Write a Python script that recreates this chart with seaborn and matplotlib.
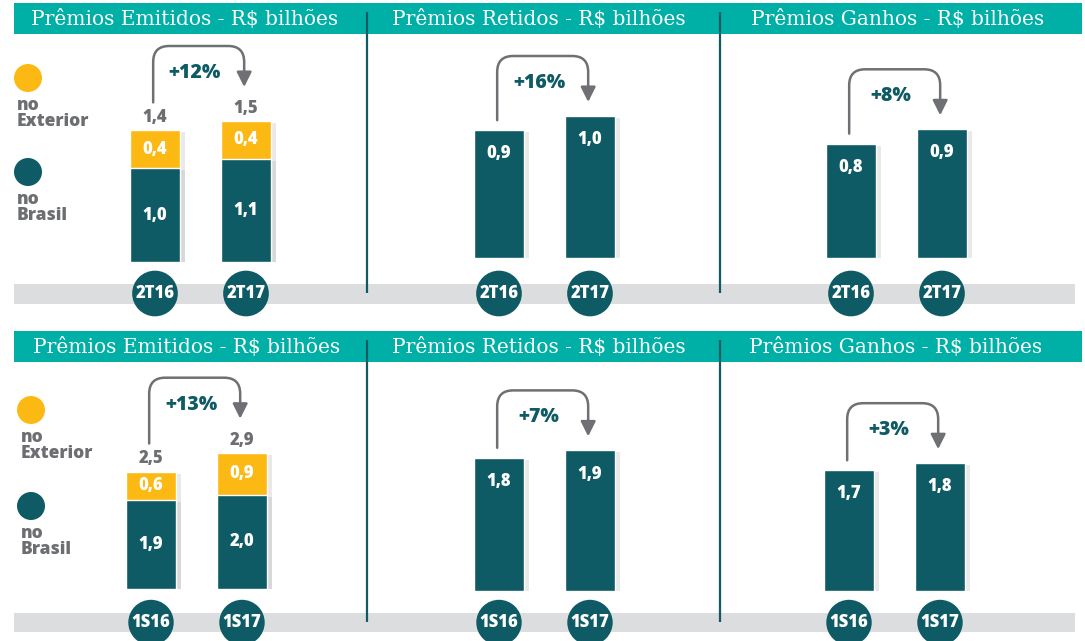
import matplotlib
matplotlib.use("Agg")
import matplotlib.pyplot as plt
import matplotlib.patheffects as pe
from matplotlib.patches import Rectangle, Circle, FancyArrowPatch
from matplotlib.path import Path
import pandas as pd
import seaborn as sns

sns.set_style("white")
plt.rcParams["font.family"] = ["Open Sans", "DejaVu Sans"]

W, H = 1085, 641

# colours
HEADER = "#00b0a6"
TEAL = "#0e5b65"
YELLOW = "#fdb913"
BAND = "#dcddde"
ARROW = "#6f7073"
GRAY_TXT = "#6d6e71"

# data
TITLES = ["Prêmios Emitidos - R$ bilhões",
          "Prêmios Retidos - R$ bilhões",
          "Prêmios Ganhos - R$ bilhões"]
LEGEND_LABELS = ["no\nExterior", "no\nBrasil"]

PERIODS_Q = ["2T16", "2T17"]
EMIT_BRASIL_Q = [1.0, 1.1]
EMIT_EXTERIOR_Q = [0.4, 0.4]
EMIT_TOTAL_Q = [1.4, 1.5]
RETIDOS_Q = [0.9, 1.0]
GANHOS_Q = [0.8, 0.9]
GROWTH_Q = ["+12%", "+16%", "+8%"]

PERIODS_S = ["1S16", "1S17"]
EMIT_BRASIL_S = [1.9, 2.0]
EMIT_EXTERIOR_S = [0.6, 0.9]
EMIT_TOTAL_S = [2.5, 2.9]
RETIDOS_S = [1.8, 1.9]
GANHOS_S = [1.7, 1.8]
GROWTH_S = ["+13%", "+7%", "+3%"]

# layout (pixels)
ROWS = [
    dict(header_y=3, header_h=31, band_y=284, band_h=20, sep=(12, 293),
         circle_y=294, top=40, legend_y=(78, 172), legend_x=28, text_x=17),
    dict(header_y=331, header_h=31, band_y=613, band_h=19, sep=(340, 622),
         circle_y=623, top=368, legend_y=(410, 506), legend_x=31, text_x=21),
]
# first bar centre x, baseline y, pixels per R$ bilhão
PANELS = [
    [(155, 262, 94), (499, 258, 142), (851, 258, 143)],
    [(151, 589, 47), (499, 591, 74), (849, 591, 71)],
]
HEADER_X = [[185, 539, 898], [187, 539, 896]]
SEP_X = [367, 720]
STEP = 91  # px between the two bars
BAR_W = 0.56


def fmt(v):
    return f"{v:.1f}".replace(".", ",")


def panel_axes(fig, cx, base, top):
    left = cx - STEP / 2
    return fig.add_axes([left / W, (H - base) / H, 2 * STEP / W, (base - top) / H])


def style_panel(ax, periods, scale, base, top, circle_y):
    ax.set_xlim(-0.5, 1.5)
    ax.set_ylim(0, (base - top) / scale)
    ax.set_facecolor("none")
    for s in ax.spines.values():
        s.set_visible(False)
    ax.set_yticks([])
    ax.set_xlabel("")
    ax.set_ylabel("")
    pad_pt = (circle_y - base - 9) * 72 / 100
    ax.set_xticks([0, 1], labels=periods, color="white", fontweight="heavy", fontsize=12,
                  bbox=dict(boxstyle="circle,pad=0.2", fc=TEAL, ec="none"))
    ax.tick_params(axis="x", length=0, pad=pad_pt)
    for p in ax.patches:
        p.set_path_effects([pe.SimplePatchShadow(offset=(3, -1.5), shadow_rgbFace="#9c9c9c", alpha=0.22),
                            pe.Normal()])


def growth_arrow(ax, v0, v1, scale, offs, label):
    start_off, top_off, tip_off = offs
    x0, x1 = -0.02, 0.98
    ys = v0 + start_off / scale
    yt = max(v0, v1) + top_off / scale
    ye = v1 + tip_off / scale
    rx, ry = 16 / STEP, 16 / scale
    verts = [(x0, ys), (x0, yt - ry), (x0, yt), (x0 + rx, yt),
             (x1 - rx, yt), (x1, yt), (x1, yt - ry), (x1, ye)]
    codes = [Path.MOVETO, Path.LINETO, Path.CURVE3, Path.CURVE3,
             Path.LINETO, Path.CURVE3, Path.CURVE3, Path.LINETO]
    arr = FancyArrowPatch(path=Path(verts, codes),
                          arrowstyle="-|>,head_length=0.9,head_width=0.45",
                          mutation_scale=10, color=ARROW, lw=1.8, clip_on=False)
    ax.add_patch(arr)
    ax.text(0.44, yt - 27 / scale, label, ha="center", va="center",
            color=TEAL, fontweight="heavy", fontsize=14)


def stacked_panel(ax, periods, brasil, exterior, total):
    df = pd.DataFrame({"period": periods, "brasil": brasil,
                       "exterior": exterior, "total": total})
    sns.barplot(data=df, x="period", y="total", color=YELLOW, saturation=1,
                width=BAR_W, errorbar=None, ax=ax)
    sns.barplot(data=df, x="period", y="brasil", color=TEAL, saturation=1,
                width=BAR_W, errorbar=None, ax=ax)
    ax.bar_label(ax.containers[0], labels=[fmt(v) for v in total], padding=3,
                 color=GRAY_TXT, fontweight="heavy", fontsize=12)
    for i, (b, e) in enumerate(zip(brasil, exterior)):
        ax.text(i, b + e / 2, fmt(e), ha="center", va="center",
                color="white", fontweight="heavy", fontsize=12)
        ax.text(i, b / 2, fmt(b), ha="center", va="center",
                color="white", fontweight="heavy", fontsize=12)


def single_panel(ax, periods, values):
    df = pd.DataFrame({"period": periods, "value": values})
    sns.barplot(data=df, x="period", y="value", color=TEAL, saturation=1,
                width=BAR_W, errorbar=None, ax=ax)
    for i, v in enumerate(values):
        ax.annotate(fmt(v), (i, v), xytext=(0, -17), textcoords="offset points",
                    ha="center", va="center", color="white", fontweight="heavy", fontsize=12)


fig = plt.figure(figsize=(W / 100, H / 100), dpi=100)
bg = fig.add_axes([0, 0, 1, 1])
bg.set_xlim(0, W)
bg.set_ylim(H, 0)
bg.axis("off")

row_data = [
    (PERIODS_Q, EMIT_BRASIL_Q, EMIT_EXTERIOR_Q, EMIT_TOTAL_Q, RETIDOS_Q, GANHOS_Q, GROWTH_Q),
    (PERIODS_S, EMIT_BRASIL_S, EMIT_EXTERIOR_S, EMIT_TOTAL_S, RETIDOS_S, GANHOS_S, GROWTH_S),
]

for r, row in enumerate(ROWS):
    periods, brasil, exterior, total, retidos, ganhos, growth = row_data[r]

    # header strip, grey base band, separators
    bg.add_patch(Rectangle((14, row["header_y"]), 1068, row["header_h"], color=HEADER, lw=0))
    bg.add_patch(Rectangle((14, row["band_y"]), 1061, row["band_h"], color=BAND, lw=0))
    for sx in SEP_X:
        bg.plot([sx, sx], row["sep"], color=TEAL, lw=1.6, solid_capstyle="butt")
    for p, title in enumerate(TITLES):
        bg.text(HEADER_X[r][p], row["header_y"] + row["header_h"] / 2 + 1, title,
                ha="center", va="center", color="white", fontsize=14.5,
                family="DejaVu Serif")

    # legend
    for k, (col, lab) in enumerate(zip([YELLOW, TEAL], LEGEND_LABELS)):
        cy = row["legend_y"][k]
        bg.add_patch(Circle((row["legend_x"], cy), 14, color=col, lw=0))
        bg.text(row["text_x"], cy + 19, lab, ha="left", va="top", color=GRAY_TXT,
                fontweight="heavy", fontsize=12.5, linespacing=0.9)

    # panels
    for p in range(3):
        cx, base, scale = PANELS[r][p]
        ax = panel_axes(fig, cx, base, row["top"])
        if p == 0:
            stacked_panel(ax, periods, brasil, exterior, total)
            style_panel(ax, periods, scale, base, row["top"], row["circle_y"])
            growth_arrow(ax, total[0], total[1], scale, (28, 75, 34), growth[p])
        else:
            vals = retidos if p == 1 else ganhos
            single_panel(ax, periods, vals)
            style_panel(ax, periods, scale, base, row["top"], row["circle_y"])
            growth_arrow(ax, vals[0], vals[1], scale, (10, 60, 14), growth[p])

fig.savefig("out.png", dpi=100, facecolor="white")
